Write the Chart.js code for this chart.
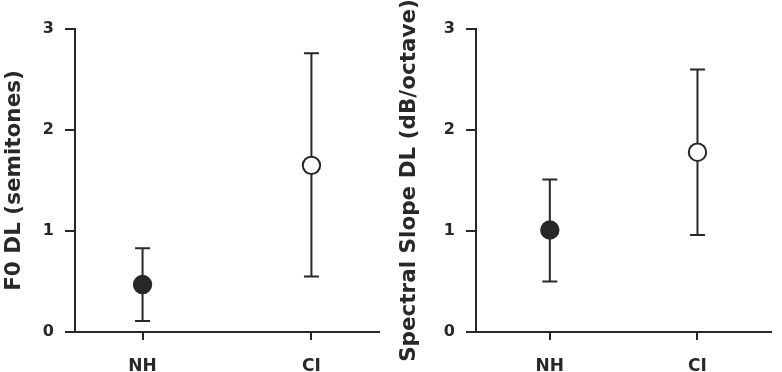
<!DOCTYPE html>
<html>
<head>
<meta charset="utf-8">
<script src="https://cdn.jsdelivr.net/npm/chart.js@4.4.1/dist/chart.umd.min.js"></script>
<style>
  html, body { margin: 0; padding: 0; background: #ffffff; }
  #wrap { position: relative; width: 782px; height: 372px; }
  canvas { position: absolute; top: 0; }
  #c1 { left: 0; }
  #c2 { left: 390px; }
</style>
</head>
<body>
<div id="wrap">
  <canvas id="c1" width="390" height="372"></canvas>
  <canvas id="c2" width="392" height="372"></canvas>
</div>
<script>
// ---- data ----
const categories = ['NH', 'CI'];
const yTicks = [0, 1, 2, 3];

const f0Mean  = [0.47, 1.65];
const f0Lower = [0.11, 0.55];
const f0Upper = [0.83, 2.76];

const slopeMean  = [1.01, 1.78];
const slopeLower = [0.50, 0.96];
const slopeUpper = [1.51, 2.60];

const f0Title = 'F0 DL (semitones)';
const slopeTitle = 'Spectral Slope DL (dB/octave)';

// ---- styling ----
const INK = '#282828';
const FONT = '"DejaVu Sans", Verdana, sans-serif';

function makeErrPlugin(lower, upper) {
  return {
    id: 'errbars',
    beforeDatasetsDraw(chart) {
      const { ctx, scales } = chart;
      const xs = scales.x, ys = scales.y;
      ctx.save();
      ctx.strokeStyle = INK;
      ctx.lineWidth = 2;
      ctx.lineCap = 'butt';
      lower.forEach((lo, i) => {
        const px = xs.getPixelForValue(i + 1);
        const y1 = ys.getPixelForValue(lo);
        const y2 = ys.getPixelForValue(upper[i]);
        const half = 7.5;
        ctx.beginPath();
        ctx.moveTo(px, y1); ctx.lineTo(px, y2);
        ctx.moveTo(px - half, y1); ctx.lineTo(px + half, y1);
        ctx.moveTo(px - half, y2); ctx.lineTo(px + half, y2);
        ctx.stroke();
      });
      ctx.restore();
    }
  };
}

function makeChart(canvasId, means, lower, upper, title, cfg) {
  const pts = means.map((m, i) => ({ x: i + 1, y: m }));
  return new Chart(document.getElementById(canvasId), {
    type: 'scatter',
    data: {
      datasets: [{
        data: pts,
        pointRadius: 8.7,
        pointHoverRadius: 8.7,
        borderWidth: 2,
        borderColor: INK,
        backgroundColor: [INK, '#ffffff']
      }]
    },
    options: {
      responsive: false,
      animation: false,
      devicePixelRatio: 1,
      events: [],
      layout: { padding: { top: 29, right: cfg.padRight, left: 0, bottom: 0 } },
      plugins: { legend: { display: false }, tooltip: { enabled: false } },
      scales: {
        x: {
          type: 'linear',
          min: cfg.xMin,
          max: cfg.xMax,
          afterBuildTicks(scale) { scale.ticks = categories.map((c, i) => ({ value: i + 1 })); },
          afterFit(scale) { scale.height = 40; },
          grid: { drawOnChartArea: false, drawTicks: true, tickLength: 8, color: INK, lineWidth: 2 },
          border: { display: true, color: INK, width: 2 },
          ticks: {
            padding: 16,
            color: INK,
            font: { family: FONT, size: 17, weight: 'bold' },
            callback: (v) => categories[Math.round(v) - 1] || ''
          }
        },
        y: {
          min: yTicks[0],
          max: yTicks[yTicks.length - 1],
          afterBuildTicks(scale) { scale.ticks = yTicks.map(v => ({ value: v })); },
          afterFit(scale) { scale.width = cfg.yWidth; },
          grid: { drawOnChartArea: false, drawTicks: true, tickLength: 10, color: INK, lineWidth: 2 },
          border: { display: true, color: INK, width: 2 },
          ticks: {
            padding: 11,
            color: INK,
            font: { family: FONT, size: 16, weight: 'bold' },
            callback: (v) => String(v)
          },
          title: {
            display: true,
            text: title,
            color: INK,
            font: { family: FONT, size: 21.5, weight: 'bold', lineHeight: 1.2 },
            padding: { top: cfg.titlePad, bottom: 0 }
          }
        }
      }
    },
    plugins: [makeErrPlugin(lower, upper)]
  });
}

makeChart('c1', f0Mean, f0Lower, f0Upper, f0Title,
  { xMin: 0.6, xMax: 2.4, yWidth: 75, padRight: 11, titlePad: 1.5 });
makeChart('c2', slopeMean, slopeLower, slopeUpper, slopeTitle,
  { xMin: 0.5, xMax: 2.5, yWidth: 86, padRight: 2, titlePad: 7 });
</script>
</body>
</html>
